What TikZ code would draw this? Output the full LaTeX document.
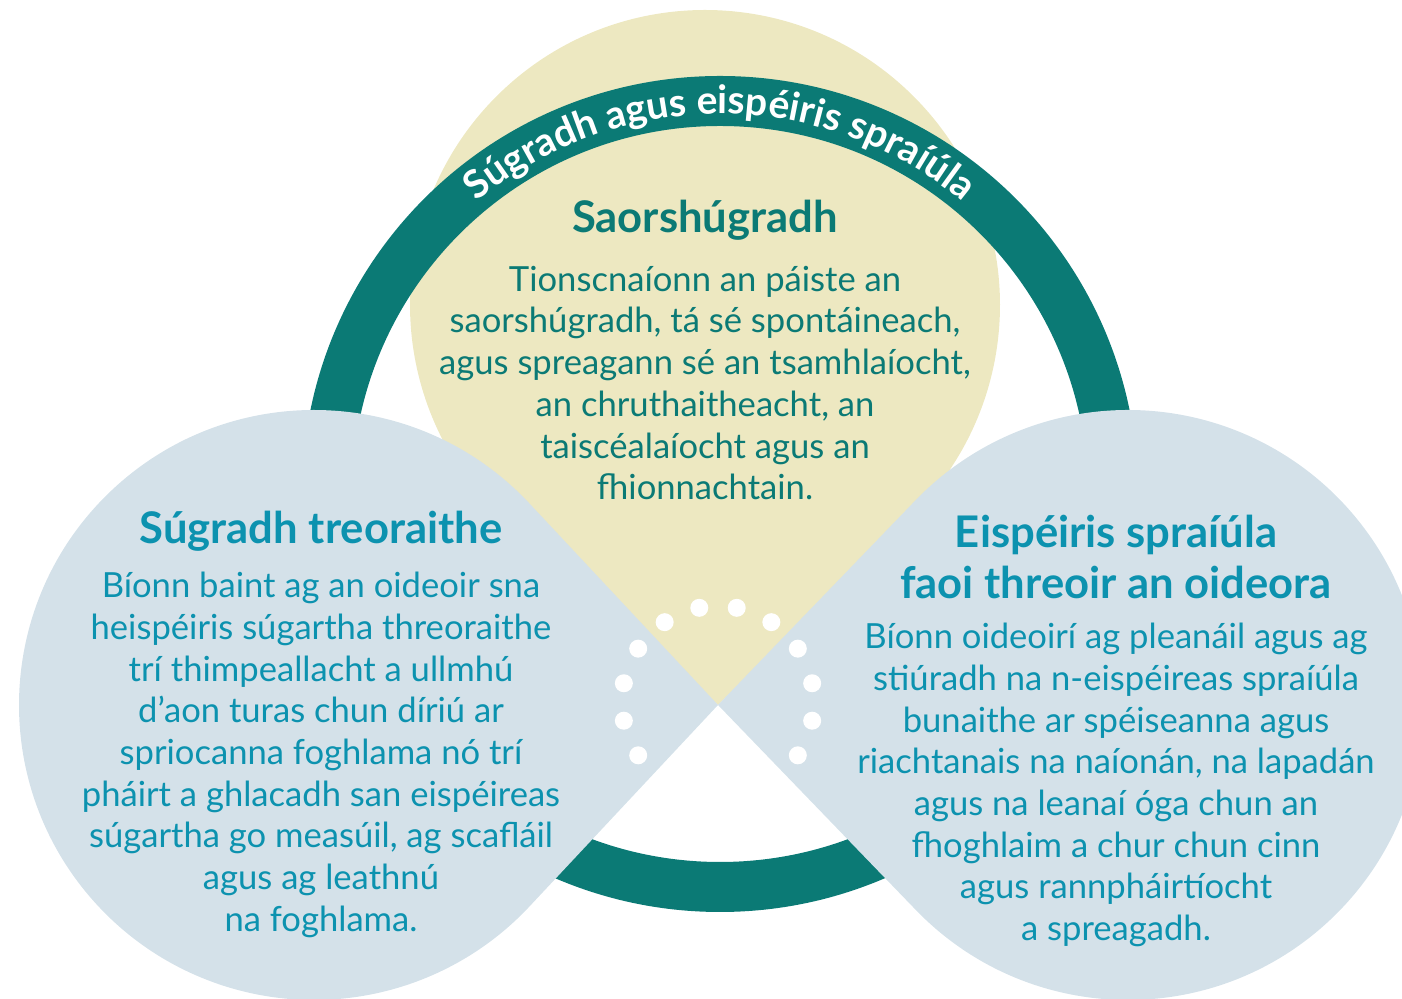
\documentclass[tikz,border=0pt]{standalone}
\usepackage{fontspec}
\setmainfont{Lato}
\usetikzlibrary{calc, positioning, decorations.text}
\definecolor{ringteal}{RGB}{11,122,117}
\definecolor{playyellow}{RGB}{237,232,193}
\definecolor{dropblue}{RGB}{212,225,233}
\definecolor{blueink}{RGB}{12,146,175}
\newcommand\ringfont{\bfseries\fontsize{19.5}{21}\selectfont}
\tikzset{
  droptitle/.style={font=\bfseries\fontsize{21.8}{25.5}\selectfont, align=center, inner sep=0pt},
  droptext/.style={font=\fontsize{17.3}{20.85}\selectfont, align=center, inner sep=0pt},
  playdot/.style={circle, fill=white, inner sep=0pt, minimum size=9pt}
}

\begin{document}
\begin{tikzpicture}[x=0.5pt, y=0.5pt]
  \useasboundingbox (0,0) rectangle (1402,999);

  \coordinate (tip) at (718,294);
  \coordinate (yc) at (705,694);
  \coordinate (lc) at (314,294);
  \coordinate (rc) at (1128,294);
  \coordinate (hub) at (720,505);
  \coordinate (dothub) at (718,297);

  % free play drop
  \fill[playyellow] (tip) -- ($(yc)+(-45.6:295)$)
    arc[start angle=-45.6, end angle=229.4, radius=295] -- cycle;

  % ring and its label
  \draw[ringteal, line width=25pt] (hub) circle[radius=393];
  \path[decorate, decoration={text along path, text align=center, text color=white,
      text={|\ringfont|Súgradh agus eispéiris spraíúla}}]
    ($(hub)+(140:380)$) arc[start angle=140, end angle=40, radius=380];

  % guided drops
  \fill[dropblue] (tip) -- ($(lc)+(43.1:295)$)
    arc[start angle=43.1, end angle=316.9, radius=295] -- cycle;
  \fill[dropblue] (tip) -- ($(rc)+(224:295)$)
    arc[start angle=224, end angle=496, radius=295] -- cycle;

  \foreach \k in {-2,...,9}
    \node[playdot] (dot\k) at ($(dothub)+(11.25+22.5*\k:96)$) {};

  \node[droptitle, text=ringteal] (ytitle) at (705,779) {Saorshúgradh};
  \node[droptext, text=ringteal] (ybody) at (705,616)
  {Tionscnaíonn an páiste an\\saorshúgradh, tá sé spontáineach,\\agus spreagann sé an tsamhlaíocht,\\an chruthaitheacht, an\\taiscéalaíocht agus an\\fhionnachtain.};

  \node[droptitle, text=blueink] (ltitle) at (321,468) {Súgradh treoraithe};
  \node[droptext, text=blueink] (lbody) at (321,244)
  {Bíonn baint ag an oideoir sna\\heispéiris súgartha threoraithe\\trí thimpeallacht a ullmhú\\d’aon turas chun díriú ar\\spriocanna foghlama nó trí\\pháirt a ghlacadh san eispéireas\\súgartha go measúil, ag scafláil\\agus ag leathnú\\na foghlama.};

  \node[droptitle, text=blueink] (rtitle) at (1116,442)
  {Eispéiris spraíúla\\faoi threoir an oideora};
  \node[droptext, text=blueink] (rbody) at (1116,214)
  {Bíonn oideoirí ag pleanáil agus ag\\stiúradh na n-eispéireas spraíúla\\bunaithe ar spéiseanna agus\\riachtanais na naíonán, na lapadán\\agus na leanaí óga chun an\\fhoghlaim a chur chun cinn\\agus rannpháirtíocht\\a spreagadh.};
\end{tikzpicture}
\end{document}
